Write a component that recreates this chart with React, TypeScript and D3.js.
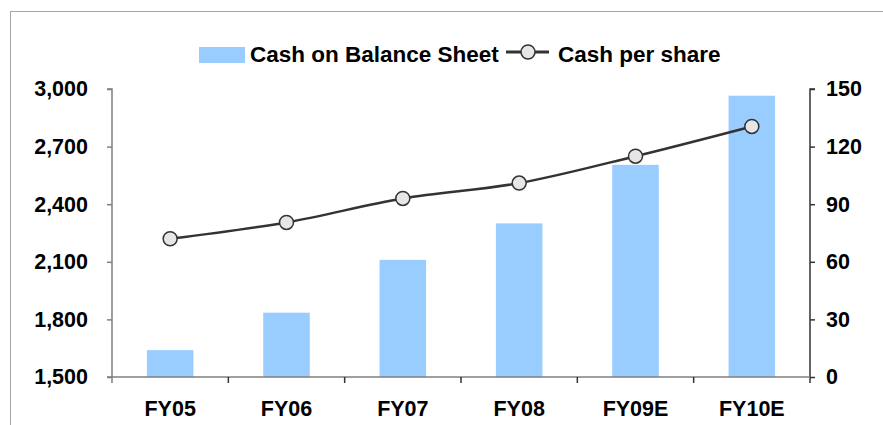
import * as d3 from "d3";
import { useEffect, useRef } from "react";

const categories = ["FY05", "FY06", "FY07", "FY08", "FY09E", "FY10E"];
const cashBalance = [1640, 1835, 2110, 2300, 2605, 2965];
const cashPerShare = [72, 80.5, 93, 101, 115, 130.5];
const leftTicks = [1500, 1800, 2100, 2400, 2700, 3000];
const rightTicks = [0, 30, 60, 90, 120, 150];

const App = () => {
    const ref = useRef<SVGSVGElement>(null);
    const width = 883;
    const height = 425;
    const plot = { left: 112, right: 810, top: 89, bottom: 377 };
    const font = "'Liberation Sans', Arial, sans-serif";

    useEffect(() => {
        const svg = d3.select(ref.current);
        svg.selectAll("*").remove();

        const x = d3.scaleBand().domain(categories).range([plot.left, plot.right]).paddingInner(0.6).paddingOuter(0.3);
        const xTicks = d3.scaleBand().domain(categories).range([plot.left, plot.right]);
        const yLeft = d3.scaleLinear().domain([1500, 3000]).range([plot.bottom, plot.top]);
        const yRight = d3.scaleLinear().domain([0, 150]).range([plot.bottom, plot.top]);

        // outer frame
        svg.append("rect")
            .attr("x", 10.5).attr("y", 11.5)
            .attr("width", 900).attr("height", 500)
            .attr("fill", "white").attr("stroke", "#a6a6a6");

        // bars
        svg.append("g").selectAll("rect")
            .data(categories)
            .join("rect")
            .attr("x", d => x(d)!)
            .attr("width", x.bandwidth())
            .attr("y", (d, i) => yLeft(cashBalance[i]))
            .attr("height", (d, i) => plot.bottom - yLeft(cashBalance[i]))
            .attr("fill", "#99ccff");

        // axes
        const leftAxis = d3.axisLeft(yLeft).tickValues(leftTicks).tickFormat(d3.format(",")).tickSize(5).tickPadding(19);
        const rightAxis = d3.axisRight(yRight).tickValues(rightTicks).tickSize(5).tickPadding(11);
        const bottomAxis = d3.axisBottom(xTicks).tickValues([]).tickSize(0);

        const styleAxis = (g: any, color: string) => {
            g.select(".domain").attr("stroke", color).attr("stroke-width", 1.5);
            g.selectAll(".tick line").attr("stroke", color).attr("stroke-width", 1.5);
            g.selectAll("text").attr("fill", "#000").style("font-family", font).style("font-size", "21.5px").style("font-weight", "bold");
        };

        svg.append("g").attr("transform", `translate(${plot.left},0)`).call(leftAxis)
            .call(g => g.select(".domain").attr("d", `M-5,${plot.top}H0V${plot.bottom}`))
            .call(g => styleAxis(g, "#7f7f7f"));
        svg.append("g").attr("transform", `translate(${plot.right},0)`).call(rightAxis)
            .call(g => g.select(".domain").attr("d", `M5,${plot.top}H0V${plot.bottom + 6}`))
            .call(g => styleAxis(g, "#333"));

        const bottom = svg.append("g").attr("transform", `translate(0,${plot.bottom})`);
        bottom.call(bottomAxis);
        bottom.select(".domain").attr("d", `M${plot.left - 5},0H${plot.right}`).attr("stroke", "#7f7f7f").attr("stroke-width", 1.5);
        const boundaries = categories.map(c => xTicks(c)!);
        bottom.selectAll("line.sep").data(boundaries).join("line")
            .attr("class", "sep")
            .attr("x1", d => d).attr("x2", d => d)
            .attr("y1", 0).attr("y2", 6)
            .attr("stroke", (d, i) => (i === 0 ? "#7f7f7f" : "#333")).attr("stroke-width", 1.5);
        bottom.selectAll("text.cat").data(categories).join("text")
            .attr("class", "cat")
            .attr("x", d => xTicks(d)! + xTicks.bandwidth() / 2)
            .attr("y", 39)
            .attr("text-anchor", "middle")
            .attr("fill", "#000")
            .style("font-family", font).style("font-size", "21.5px").style("font-weight", "bold")
            .text(d => d);

        // line
        const line = d3.line<number>()
            .x((d, i) => xTicks(categories[i])! + xTicks.bandwidth() / 2)
            .y(d => yRight(d))
            .curve(d3.curveCatmullRom.alpha(0.5));
        svg.append("path").datum(cashPerShare)
            .attr("d", line)
            .attr("fill", "none").attr("stroke", "#333").attr("stroke-width", 2.5);
        svg.append("g").selectAll("circle").data(cashPerShare).join("circle")
            .attr("cx", (d, i) => xTicks(categories[i])! + xTicks.bandwidth() / 2)
            .attr("cy", d => yRight(d))
            .attr("r", 7)
            .attr("fill", "#e6e6e6").attr("stroke", "#333").attr("stroke-width", 1.5);

        // legend
        const legend = svg.append("g").style("font-family", font).style("font-size", "22.5px").style("font-weight", "bold");
        legend.append("rect").attr("x", 199).attr("y", 47).attr("width", 46).attr("height", 16).attr("fill", "#99ccff");
        legend.append("text").attr("x", 250).attr("y", 62).text("Cash on Balance Sheet");
        legend.append("line").attr("x1", 506).attr("x2", 549).attr("y1", 52).attr("y2", 52).attr("stroke", "#333").attr("stroke-width", 3);
        legend.append("circle").attr("cx", 528).attr("cy", 52).attr("r", 7).attr("fill", "#e6e6e6").attr("stroke", "#333").attr("stroke-width", 1.5);
        legend.append("text").attr("x", 558).attr("y", 62).text("Cash per share");
    }, []);

    return (
        <svg ref={ref} width={width} height={height} style={{ position: "absolute", left: 0, top: 0 }} />
    );
};

export default App;
